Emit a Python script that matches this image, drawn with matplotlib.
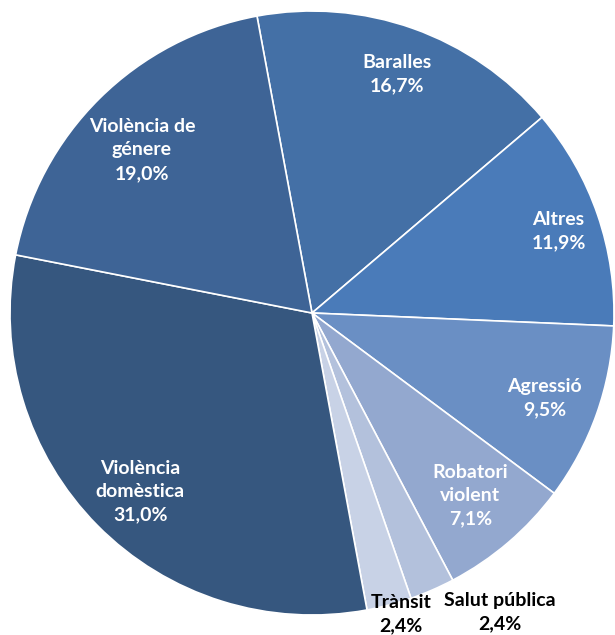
import numpy as np
import matplotlib.pyplot as plt

labels = ['Baralles', 'Altres', 'Agressió', 'Robatori\nviolent', 'Salut pública',
          'Trànsit', 'Violència\ndomèstica', 'Violència de\ngénere']
values = [16.7, 11.9, 9.5, 7.1, 2.4, 2.4, 31.0, 19.0]
colors = ['#4470a6', '#4a7bb9', '#6a8fc4', '#93a8cf', '#b3c1dc',
          '#c8d2e6', '#36577f', '#3e6496']

# label placement: radius fraction, angle shift (deg), text colour
lab_r = [0.84, 0.86, 0.82, 0.80, 1.17, 1.04, 0.82, 0.78]
lab_da = [0, -0.6, -0.5, 0.4, 8.6, 1.7, 1.4, 1.5]
lab_col = ['white'] * 4 + ['black'] * 2 + ['white'] * 2

plt.rcParams['font.family'] = ['Lato', 'DejaVu Sans']

fig = plt.figure(figsize=(6.15, 6.35), dpi=100)
ax = fig.add_axes([0, 0, 1, 1])

# pixel coords, y measured upward from the bottom
cx, cy, R = 312, 635 - 313, 302
wedges, _ = ax.pie(values, colors=colors, startangle=100.5, counterclock=False,
                   center=(cx, cy), radius=R, frame=True,
                   wedgeprops=dict(edgecolor='white', linewidth=1.2))
ax.set_xlim(0, 615)
ax.set_ylim(0, 635)
ax.axis('off')

for w, lab, v, rf, da, col in zip(wedges, labels, values, lab_r, lab_da, lab_col):
    ang = np.deg2rad((w.theta1 + w.theta2) / 2 + da)
    x = cx + R * rf * np.cos(ang)
    y = cy + R * rf * np.sin(ang)
    txt = lab + '\n' + f'{v:.1f}'.replace('.', ',') + '%'
    ax.text(x, y, txt, ha='center', va='center', color=col,
            fontsize=14, fontweight='bold', linespacing=1.45)

fig.savefig('out.png', dpi=100)
